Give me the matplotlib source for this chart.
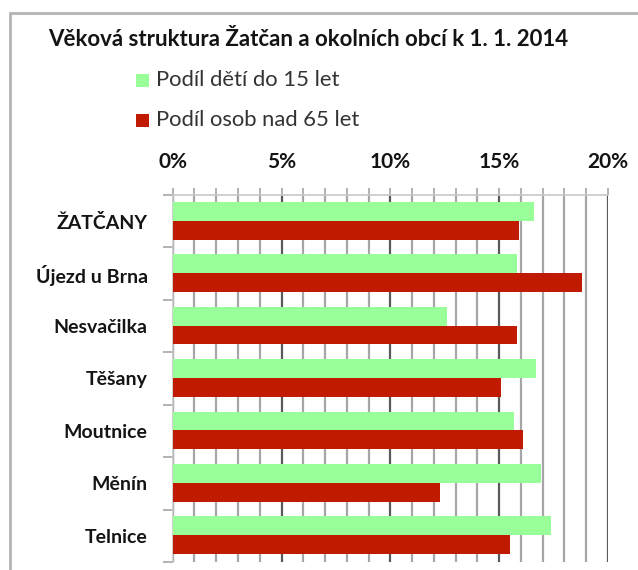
import matplotlib
matplotlib.use("Agg")
import matplotlib.pyplot as plt
from matplotlib.patches import Rectangle
from matplotlib.ticker import MultipleLocator, FuncFormatter
import numpy as np

categories = ["ŽATČANY", "Újezd u Brna", "Nesvačilka", "Těšany", "Moutnice", "Měnín", "Telnice"]
children = [16.6, 15.8, 12.6, 16.7, 15.7, 16.9, 17.4]
seniors = [15.9, 18.8, 15.8, 15.1, 16.1, 12.3, 15.5]
series_names = ["Podíl dětí do 15 let", "Podíl osob nad 65 let"]
title = "Věková struktura Žatčan a okolních obcí k 1. 1. 2014"

GREEN = "#99ff99"
RED = "#c01a00"
FONT = "Lato"

W, H = 638, 570
fig = plt.figure(figsize=(W / 100, H / 100), dpi=100)
fig.patch.set_facecolor("white")

# outer chart border (cropped at right/bottom)
fig.patches.append(Rectangle((10 / W, -0.05), 1.2, 1 - 13 / H + 0.05,
                             transform=fig.transFigure, fill=False,
                             edgecolor="#b4b4b4", lw=2))

ax = fig.add_axes([172.7 / W, 1 - 562 / H, (608 - 172.7) / W, (562 - 195) / H])

y = np.arange(len(categories))
h = 0.36
ax.barh(y - h / 2 - 0.01, children, height=h, color=GREEN, zorder=3)
ax.barh(y + h / 2 - 0.01, seniors, height=h, color=RED, zorder=3)

ax.set_xlim(0, 20)
ax.set_ylim(len(categories) - 0.5, -0.5)

ax.xaxis.set_major_locator(MultipleLocator(5))
ax.xaxis.set_minor_locator(MultipleLocator(1))
ax.xaxis.set_major_formatter(FuncFormatter(lambda v, p: f"{v:.0f}%"))
ax.xaxis.tick_top()
ax.grid(which="major", axis="x", color="#5a5a5a", lw=1.6, zorder=1)
ax.grid(which="minor", axis="x", color="#a6a6a6", lw=1.6, zorder=1)
ax.tick_params(axis="x", which="both", direction="out", length=5, color="#a6a6a6",
               width=1.2, pad=11.5)
ax.tick_params(axis="x", which="major", labelsize=15, labelcolor="#141414")
for lbl in ax.get_xticklabels():
    lbl.set_fontfamily(FONT)
    lbl.set_fontweight("bold")

# y axis: ticks at category boundaries, labels at centers
ax.set_yticks(np.arange(len(categories) + 1) - 0.5)
ax.set_yticklabels([])
ax.set_yticks(y, minor=True)
ax.set_yticklabels(categories, minor=True, fontfamily=FONT, fontweight="bold",
                   fontsize=14, color="#141414")
ax.tick_params(axis="y", which="major", direction="out", length=7, color="#a6a6a6", width=1.2)
ax.tick_params(axis="y", which="minor", length=0, pad=18)

for s in ["right", "bottom"]:
    ax.spines[s].set_visible(False)
for s in ["left", "top"]:
    ax.spines[s].set_color("#c8c8c8")
    ax.spines[s].set_linewidth(1.2)

# title
fig.text(48 / W, 1 - 40 / H, title, fontfamily=FONT, fontweight="bold",
         fontsize=16, ha="left", va="center", color="#141414")

# legend (manual)
for i, (name, col) in enumerate(zip(series_names, [GREEN, RED])):
    yc = 80 + 40 * i
    fig.patches.append(Rectangle((136 / W, 1 - (yc + 6.5) / H), 13 / W, 13 / H,
                                 transform=fig.transFigure, facecolor=col, edgecolor="none"))
    fig.text(156 / W, 1 - yc / H, name, fontfamily=FONT, fontsize=15.8,
             ha="left", va="center", color="#333333")

fig.savefig("out.png", dpi=100)
